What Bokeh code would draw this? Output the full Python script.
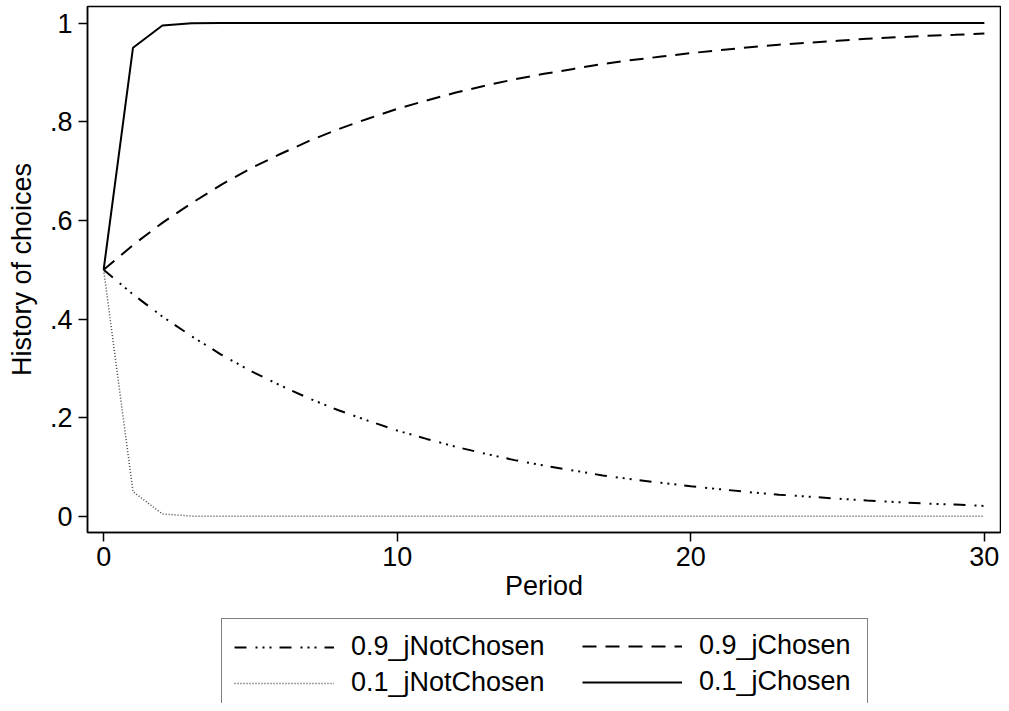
import numpy as np
from bokeh.plotting import figure
from bokeh.models import Range1d, FixedTicker, Legend, LegendItem, ColumnDataSource
from bokeh.layouts import column
from bokeh.embed import file_html
from bokeh.resources import INLINE

period = list(range(31))
s09_not = [0.5, 0.45, 0.405, 0.365, 0.328, 0.295, 0.266, 0.239, 0.215, 0.194,
           0.174, 0.157, 0.141, 0.127, 0.114, 0.103, 0.093, 0.083, 0.075, 0.068,
           0.061, 0.055, 0.049, 0.044, 0.040, 0.036, 0.032, 0.029, 0.026, 0.024, 0.021]
s09_chosen = [0.5, 0.55, 0.595, 0.635, 0.672, 0.705, 0.734, 0.761, 0.785, 0.806,
              0.826, 0.843, 0.859, 0.873, 0.886, 0.897, 0.907, 0.917, 0.925, 0.932,
              0.939, 0.945, 0.951, 0.956, 0.960, 0.964, 0.968, 0.971, 0.974, 0.976, 0.979]
s01_not = [0.5, 0.05, 0.005, 0.0005, 0.0001] + [0.0] * 26
s01_chosen = [0.5, 0.95, 0.995, 0.9995, 0.9999] + [1.0] * 26

series_names = ["0.9_jNotChosen", "0.9_jChosen", "0.1_jNotChosen", "0.1_jChosen"]
x_ticks = [0, 10, 20, 30]
y_ticks = [0, 0.2, 0.4, 0.6, 0.8, 1.0]
y_tick_labels = {0: "0", 0.2: ".2", 0.4: ".4", 0.6: ".6", 0.8: ".8", 1.0: "1"}

FONT = "Liberation Sans"
FS = "27px"

styles = [
    dict(line_color="black", line_width=2, line_dash="12 9 2 5 2 5 2 8"),
    dict(line_color="black", line_width=2, line_dash="14 9"),
    dict(line_color="#444444", line_width=1.5, line_dash="1 2"),
    dict(line_color="black", line_width=2),
]

p = figure(width=1001, height=617, output_backend="svg", toolbar_location=None,
           x_range=Range1d(-0.55, 30.55), y_range=Range1d(-0.0327, 1.0335),
           min_border_left=87, min_border_right=1, min_border_top=6, min_border_bottom=85,
           background_fill_color="white", border_fill_color="white")

p.outline_line_color = "black"
p.outline_line_width = 1.5
p.xgrid.visible = False
p.ygrid.visible = False

for ax in (p.xaxis[0], p.yaxis[0]):
    ax.axis_line_width = 1.5
    ax.axis_line_color = "black"
    ax.major_tick_line_width = 1.5
    ax.major_tick_in = 0
    ax.major_tick_out = 9
    ax.minor_tick_line_color = None
    ax.major_label_text_font = FONT
    ax.major_label_text_font_size = FS
    ax.major_label_text_color = "black"
    ax.axis_label_text_font = FONT
    ax.axis_label_text_font_size = FS
    ax.axis_label_text_font_style = "normal"
    ax.axis_label_text_color = "black"

p.xaxis.ticker = FixedTicker(ticks=x_ticks)
p.yaxis.ticker = FixedTicker(ticks=y_ticks)
p.yaxis.major_label_overrides = y_tick_labels
p.yaxis.major_label_orientation = "horizontal"
p.xaxis.axis_label = "Period"
p.yaxis.axis_label = "History of choices"
p.xaxis.major_label_standoff = 5
p.yaxis.major_label_standoff = 6
p.xaxis.axis_label_standoff = 2
p.yaxis.axis_label_standoff = 10

src = ColumnDataSource(dict(x=period, a=s09_not, b=s09_chosen, c=s01_not, d=s01_chosen))
p.line("x", "a", source=src, **styles[0])
p.line("x", "b", source=src, **styles[1])
p.line("x", "c", source=src, **styles[2])
p.line("x", "d", source=src, **styles[3])

# legend strip below the chart (frame aligned with the chart's frame)
q = figure(width=1001, height=86, output_backend="svg", toolbar_location=None,
           x_range=Range1d(0, 1), y_range=Range1d(0, 1),
           x_axis_type=None, y_axis_type=None,
           min_border_left=87, min_border_right=1, min_border_top=0, min_border_bottom=0,
           background_fill_color="white", border_fill_color="white")
q.xgrid.visible = False
q.ygrid.visible = False
q.outline_line_color = None

empty = ColumnDataSource(dict(x=np.array([np.nan]), y=np.array([np.nan])))
keys = [q.line("x", "y", source=empty, **st) for st in styles]


def make_legend(idx, loc):
    lg = Legend(items=[LegendItem(label=series_names[i], renderers=[keys[i]]) for i in idx],
                location=loc, orientation="vertical")
    lg.label_text_font = FONT
    lg.label_text_font_size = FS
    lg.label_text_color = "black"
    lg.glyph_width = 100
    lg.glyph_height = 28
    lg.label_height = 28
    lg.label_standoff = 17
    lg.padding = 12
    lg.margin = 0
    lg.spacing = 5
    return lg


box = make_legend([0, 2], (134, -8))
box.label_width = 504
box.border_line_color = "black"
box.border_line_width = 1.5
box.background_fill_color = "white"
box.background_fill_alpha = 1.0

right = make_legend([1, 3], (495, 6))
right.border_line_color = None
right.background_fill_alpha = 0

q.add_layout(box, "center")
q.add_layout(right, "center")

layout = column(p, q, spacing=0)
open("out.html", "w").write(file_html(layout, INLINE))
